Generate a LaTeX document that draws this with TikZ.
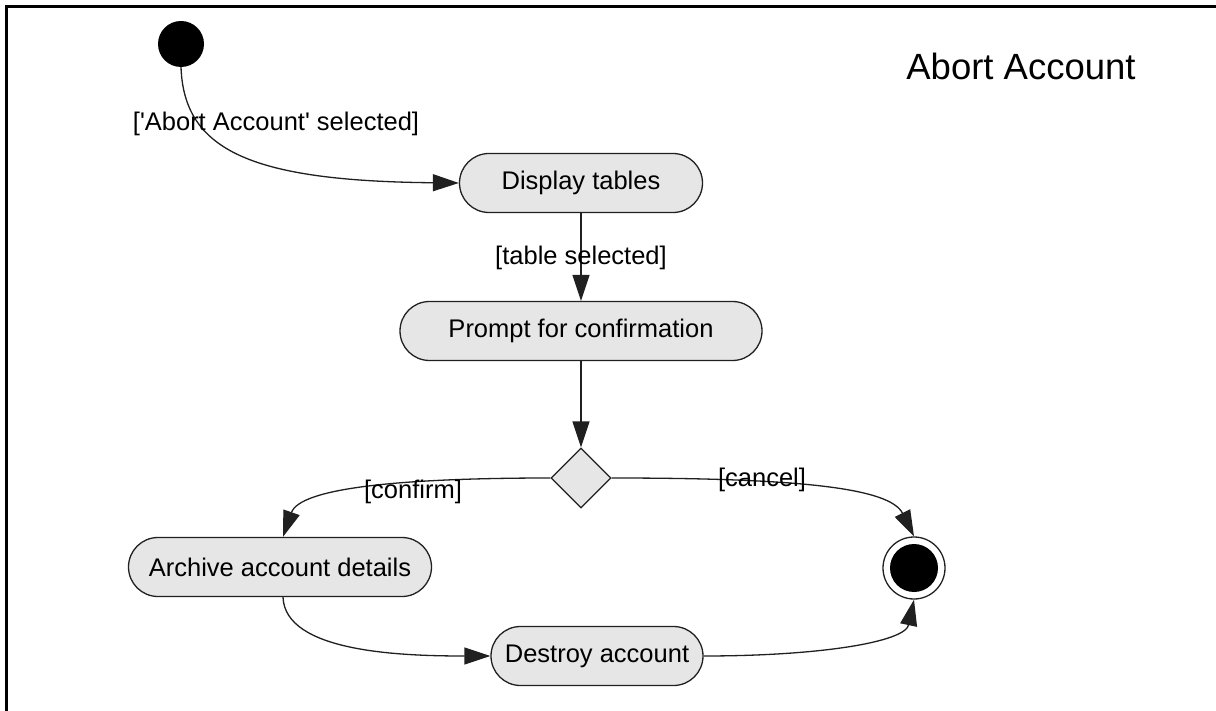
\documentclass[tikz,border=0pt]{standalone}
\usepackage{fontspec}
\setmainfont{Liberation Sans}
\usetikzlibrary{shapes.misc,shapes.geometric,arrows.meta}
\definecolor{actfill}{HTML}{E6E6E6}
\definecolor{edgecol}{HTML}{202020}
\tikzset{
  activity/.style={rounded rectangle, draw=edgecol, line width=1.3pt, fill=actfill,
    minimum height=59pt, inner sep=0pt, font=\fontsize{25.5}{28}\selectfont},
  decision/.style={diamond, draw=edgecol, line width=1.3pt, fill=actfill,
    minimum width=60pt, minimum height=60pt, inner sep=0pt},
  flow/.style={draw=edgecol, line width=1.3pt, -{Triangle[length=26pt,width=17pt]}},
  guard/.style={font=\fontsize{25.5}{28}\selectfont, inner sep=0pt},
}
\begin{document}
\begin{tikzpicture}[x=1pt,y=-1pt]
  \path[use as bounding box, clip] (0,0) rectangle (1216,711);
  \fill[white] (0,0) rectangle (1216,711);
  % frame
  \draw[line width=3pt] (6.5,6.5) rectangle (1240,740);
  % title
  \node[font=\fontsize{36.5}{40}\selectfont, inner sep=0pt] (title) at (1021,66) {Abort Account};

  % nodes
  \node[circle, fill=black, minimum size=46pt, inner sep=0pt] (start) at (181,44) {};
  \node[activity, minimum width=243pt] (display) at (581,183) {Display tables};
  \node[activity, minimum width=362pt] (prompt) at (581,331) {Prompt for confirmation};
  \node[decision] (choice) at (581,478) {};
  \node[activity, minimum width=303pt] (archive) at (280,567) {Archive account details};
  \node[activity, minimum width=212pt] (destroy) at (597,656) {Destroy account};
  \node[circle, draw=edgecol, line width=1.3pt, fill=white, minimum size=62pt, inner sep=0pt] (final) at (914,568) {};
  \node[circle, fill=black, minimum size=48pt, inner sep=0pt] (finaldot) at (final.center) {};

  % flows
  \draw[flow] (start.south) .. controls (184,150) and (250,181) .. (display.west);
  \draw[flow] (display.south) -- (prompt.north);
  \draw[flow] (prompt.south) -- (choice.north);
  \draw[flow] (choice.west) .. controls (400,478) and (300,488) .. ([xshift=3pt]archive.north);
  \draw[flow] (choice.east) .. controls (800,478) and (890,488) .. (final.north);
  \draw[flow] ([xshift=3pt]archive.south) .. controls (285,652) and (400,656) .. (destroy.west);
  \draw[flow] (destroy.east) .. controls (820,656) and (905,642) .. (final.south);

  % guards
  \node[guard] (g1) at (276,124) {[\textquotesingle Abort Account\textquotesingle{} selected]};
  \node[guard] (g2) at (581,258) {[table selected]};
  \node[guard] (g3) at (413,492) {[confirm]};
  \node[guard] (g4) at (762,480) {[cancel]};
\end{tikzpicture}
\end{document}
